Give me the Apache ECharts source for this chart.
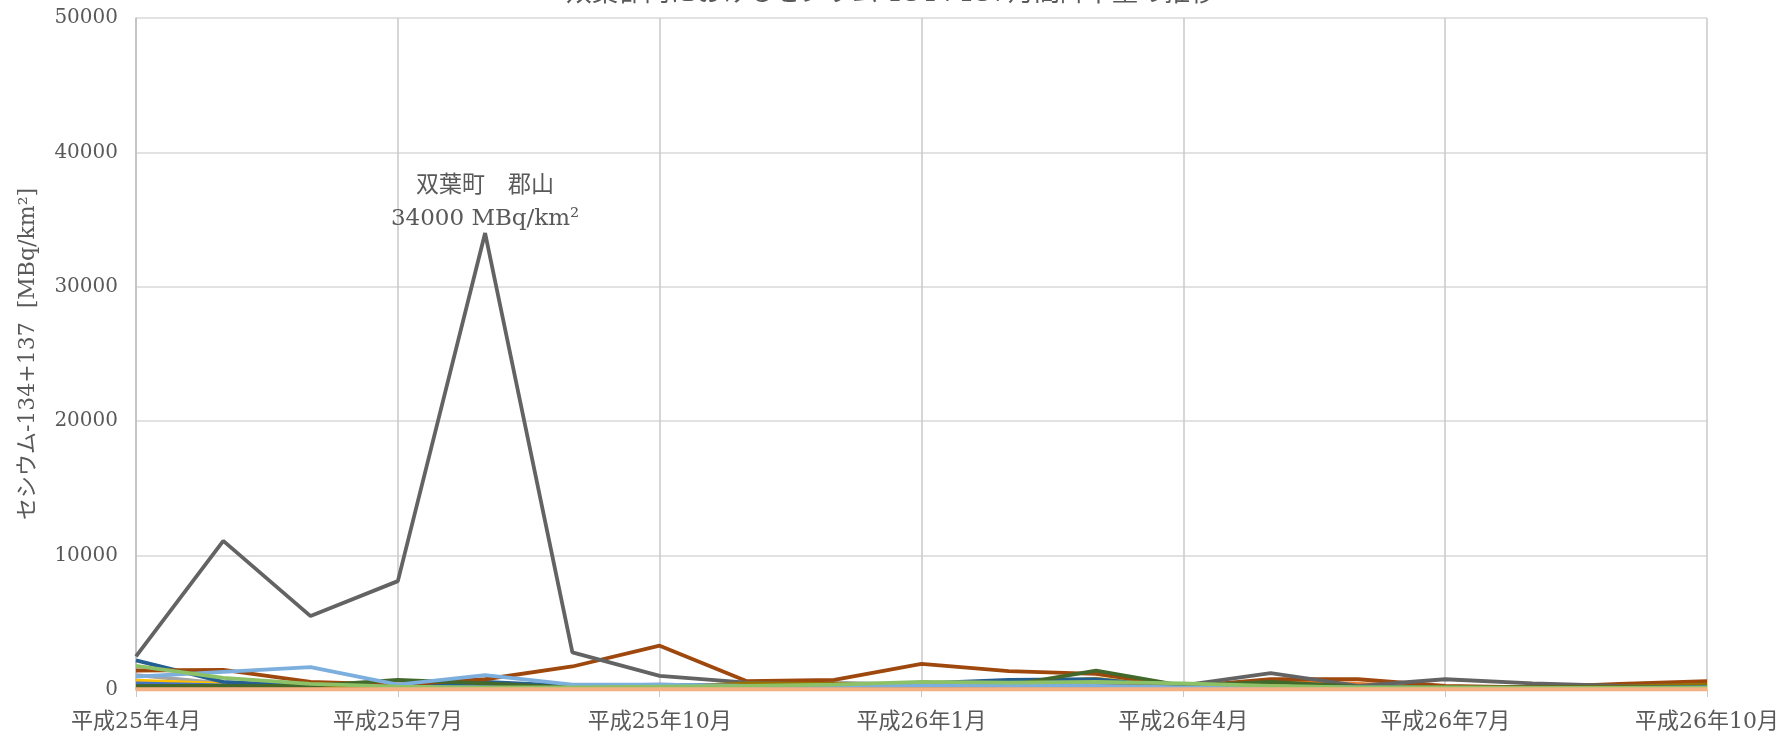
<!DOCTYPE html>
<html>
<head>
<meta charset="utf-8">
<title>セシウム降下量の推移</title>
<script src="https://cdn.jsdelivr.net/npm/echarts@6/dist/echarts.min.js"></script>
<style>
  html, body { margin: 0; padding: 0; background: #fff; }
  #chart { width: 1782px; height: 733px; }
</style>
</head>
<body>
<div id="chart"></div>
<script>
// 月（平成25年4月〜平成26年10月）
const months = [
  '平成25年4月', '平成25年5月', '平成25年6月', '平成25年7月', '平成25年8月', '平成25年9月',
  '平成25年10月', '平成25年11月', '平成25年12月', '平成26年1月', '平成26年2月', '平成26年3月',
  '平成26年4月', '平成26年5月', '平成26年6月', '平成26年7月', '平成26年8月', '平成26年9月', '平成26年10月'
];

// 各地点の月間降下量 [MBq/km2]
const siteA = [300, 250, 200, 150, 200, 200, 250, 200, 200, 200, 200, 200, 150, 150, 150, 150, 150, 150, 150];
const siteB = [150, 150, 100, 100, 100, 100, 100, 100, 100, 100, 100, 300, 150, 650, 450, 200, 150, 150, 250];
const siteC = [1100, 500, 300, 400, 300, 200, 200, 400, 550, 400, 350, 400, 300, 400, 300, 250, 200, 200, 200];
const siteD = [700, 450, 250, 150, 150, 150, 200, 450, 400, 350, 450, 850, 200, 300, 200, 150, 150, 150, 200];
const siteE = [500, 350, 300, 250, 350, 300, 400, 300, 250, 250, 200, 200, 150, 150, 150, 150, 150, 150, 150];
const siteF = [2200, 600, 300, 300, 600, 300, 300, 350, 350, 500, 750, 800, 200, 200, 200, 200, 200, 200, 300];
const siteG = [1450, 1500, 600, 400, 800, 1750, 3300, 650, 750, 1950, 1400, 1200, 250, 800, 800, 300, 200, 450, 650];
const futabaKoriyama = [2500, 11100, 5500, 8100, 34000, 2800, 1050, 550, 400, 300, 300, 300, 350, 1250, 300, 800, 500, 300, 350];
const siteH = [200, 200, 150, 150, 150, 150, 200, 500, 450, 300, 250, 300, 200, 250, 200, 200, 200, 250, 400];
const siteI = [300, 300, 300, 750, 500, 200, 200, 300, 300, 300, 350, 1450, 300, 600, 250, 200, 200, 200, 250];
const siteJ = [1000, 1350, 1700, 400, 1100, 400, 400, 300, 300, 350, 300, 300, 200, 250, 200, 150, 150, 150, 200];
const siteK = [1800, 900, 450, 250, 200, 200, 250, 300, 400, 600, 550, 600, 500, 300, 200, 200, 150, 150, 150];
const siteL = [60, 60, 60, 60, 60, 60, 60, 60, 60, 60, 60, 60, 60, 60, 60, 60, 60, 60, 60];

const yTicks = [0, 10000, 20000, 30000, 40000, 50000];

const serifFont = '"DejaVu Serif", "Liberation Serif", "Noto Sans CJK JP", serif';

const chart = echarts.init(document.getElementById('chart'));

function line(name, data, color, extra) {
  return Object.assign({
    name: name,
    type: 'line',
    data: data,
    symbol: 'none',
    lineStyle: { color: color, width: 3.8 },
    itemStyle: { color: color }
  }, extra || {});
}

const option = {
  backgroundColor: '#fff',
  animation: false,
  title: {
    text: '双葉郡内におけるセシウム-134+137月間降下量の推移',
    left: 'center',
    top: -24,
    textStyle: { fontSize: 26, color: '#595959', fontWeight: 'normal', fontFamily: serifFont }
  },
  grid: { left: 136, right: 72, top: 18, bottom: 43, containLabel: false },
  xAxis: {
    type: 'category',
    data: months,
    boundaryGap: false,
    axisLine: { show: true, lineStyle: { color: '#d9d9d9' } },
    axisTick: { show: true, interval: 2, length: 7, lineStyle: { color: '#c8c8c8' } },
    axisLabel: { interval: 2, color: '#595959', fontSize: 22, margin: 21, fontFamily: serifFont },
    splitLine: { show: true, interval: 2, lineStyle: { color: '#c8c8c8', width: 1.5 } }
  },
  yAxis: {
    type: 'value',
    min: yTicks[0],
    max: yTicks[yTicks.length - 1],
    interval: 10000,
    name: 'セシウム-134+137  [MBq/km²]',
    nameLocation: 'middle',
    nameGap: 97,
    nameTextStyle: { color: '#595959', fontSize: 22, fontFamily: serifFont },
    axisLine: { show: true, lineStyle: { color: '#bfbfbf', width: 1.5 } },
    axisTick: { show: false },
    axisLabel: {
      color: '#595959', fontSize: 20, margin: 18, fontFamily: serifFont,
      formatter: function (v) { return String(v); }
    },
    splitLine: { show: true, lineStyle: { color: '#d9d9d9', width: 1.5 } }
  },
  series: [
    line('地点A', siteA, '#5B9BD5'),
    line('地点B', siteB, '#ED7D31'),
    line('地点C', siteC, '#A5A5A5'),
    line('地点D', siteD, '#FFC000'),
    line('地点E', siteE, '#4472C4'),
    line('地点F', siteF, '#255E91'),
    line('地点G', siteG, '#9E480E'),
    line('双葉町　郡山', futabaKoriyama, '#636363', {
      markPoint: {
        symbol: 'circle',
        symbolSize: 1,
        itemStyle: { color: 'rgba(0,0,0,0)' },
        data: [{ coord: [months[4], 34000] }],
        label: {
          show: true,
          position: 'top',
          distance: -3,
          formatter: '{a|双葉町　郡山}\n{b|34000 MBq/km²}',
          rich: {
            a: { fontSize: 23, color: '#595959', lineHeight: 33, fontFamily: serifFont, align: 'center' },
            b: { fontSize: 23, color: '#595959', lineHeight: 33, fontFamily: serifFont, align: 'center' }
          }
        }
      }
    }),
    line('地点H', siteH, '#997300'),
    line('地点I', siteI, '#43682B'),
    line('地点J', siteJ, '#7CAFDD'),
    line('地点K', siteK, '#8CC168'),
    line('地点L', siteL, '#F4B183', { lineStyle: { color: '#F4B183', width: 4 } })
  ]
};

chart.setOption(option);
window.addEventListener('resize', chart.resize);
</script>
</body>
</html>
